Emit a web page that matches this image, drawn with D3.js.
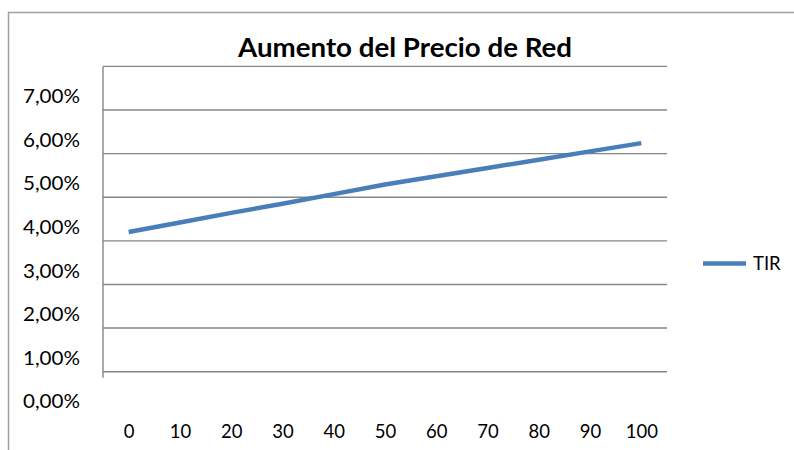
<!DOCTYPE html>
<html>
<head>
<meta charset="utf-8">
<script src="https://cdn.jsdelivr.net/npm/d3@7"></script>
<style>
  html, body { margin: 0; padding: 0; background: #fff; }
  svg { display: block; }
  text { font-family: Lato, "Open Sans", sans-serif; fill: #000; }
</style>
</head>
<body>
<svg id="chart" width="794" height="450"></svg>
<script>
const title = "Aumento del Precio de Red";
const categories = ["0", "10", "20", "30", "40", "50", "60", "70", "80", "90", "100"];
const seriesName = "TIR";
const tirValues = [0.0388, 0.0410, 0.0432, 0.0453, 0.0475, 0.0497, 0.0516, 0.0535, 0.0554, 0.0573, 0.0592];
const yTicks = [0, 0.01, 0.02, 0.03, 0.04, 0.05, 0.06, 0.07];
const gridValues = [0.01, 0.02, 0.03, 0.04, 0.05, 0.06, 0.07, 0.08];

const svg = d3.select("#chart");
const plotLeft = 103, plotRight = 667;
const gridOffset = 14;

const x = d3.scalePoint().domain(categories).range([plotLeft, plotRight]).padding(0.5);
const y = d3.scaleLinear().domain([0, 0.07]).range([401.3, 96]);
const fmt = v => d3.format(".2f")(v * 100).replace(".", ",") + "%";

// outer chart border (extends past right & bottom edges)
svg.append("rect")
  .attr("x", 8.5).attr("y", 12.5)
  .attr("width", 900).attr("height", 500)
  .attr("fill", "none").attr("stroke", "#a0a0a0").attr("stroke-width", 1.5);

// title
svg.append("text")
  .attr("x", 405).attr("y", 57)
  .attr("text-anchor", "middle")
  .attr("font-weight", "bold")
  .attr("font-size", 26)
  .attr("textLength", 334)
  .attr("lengthAdjust", "spacingAndGlyphs")
  .text(title);

// gridlines
svg.append("g").selectAll("line").data(gridValues).join("line")
  .attr("x1", plotLeft).attr("x2", plotRight)
  .attr("y1", d => y(d) + gridOffset).attr("y2", d => y(d) + gridOffset)
  .attr("stroke", "#868686").attr("stroke-width", 1.4);

// y axis line
svg.append("line")
  .attr("x1", plotLeft).attr("x2", plotLeft)
  .attr("y1", y(0.08) + gridOffset).attr("y2", y(0.01) + gridOffset + 6)
  .attr("stroke", "#868686").attr("stroke-width", 1.4);

// y labels via axis
const yAxis = d3.axisLeft(y).tickValues(yTicks).tickFormat(fmt).tickSize(0).tickPadding(0);
const yg = svg.append("g").attr("transform", "translate(80,0)").call(yAxis);
yg.select(".domain").remove();
yg.selectAll("text")
  .attr("font-family", "Lato, sans-serif")
  .attr("font-size", 19)
  .attr("fill", "#000")
  .attr("dy", "0.35em")
  .attr("textLength", 57)
  .attr("lengthAdjust", "spacingAndGlyphs");

// x labels via axis
const xAxis = d3.axisBottom(x).tickSize(0).tickPadding(0);
const xg = svg.append("g").attr("transform", "translate(0,425)").call(xAxis);
xg.select(".domain").remove();
xg.selectAll("text")
  .attr("font-family", "Lato, sans-serif")
  .attr("font-size", 18.5)
  .attr("fill", "#000")
  .attr("dy", "0.35em")
  .attr("y", 6.5);

// line
const line = d3.line().x((d, i) => x(categories[i])).y(d => y(d));
svg.append("path")
  .datum(tirValues)
  .attr("d", line)
  .attr("fill", "none")
  .attr("stroke", "#4a7ebb")
  .attr("stroke-width", 4.5)
  .attr("stroke-linejoin", "round");

// legend
svg.append("line")
  .attr("x1", 703).attr("x2", 746)
  .attr("y1", 263.5).attr("y2", 263.5)
  .attr("stroke", "#4a7ebb").attr("stroke-width", 4.5);
svg.append("text")
  .attr("x", 753).attr("y", 264)
  .attr("dy", "0.35em")
  .attr("font-size", 18.5)
  .text(seriesName);
</script>
</body>
</html>
